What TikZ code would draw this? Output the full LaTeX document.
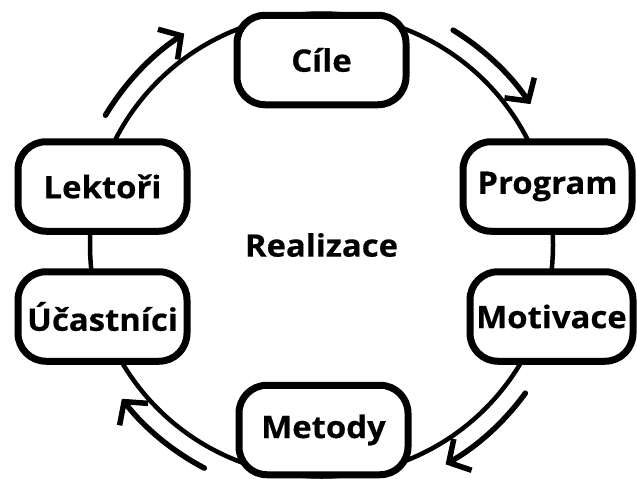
\documentclass[tikz,border=0pt]{standalone}
\usepackage{fontspec}
\setmainfont{Open Sans}
\newfontfamily\lblfont{Open Sans}[FakeStretch=1.06, FakeBold=0.4]
\usetikzlibrary{arrows.meta}
\tikzset{
  box/.style={draw=black, fill=white, line width=7pt, rounded corners=28pt,
    minimum width=169pt, minimum height=89.5pt, inner sep=0pt,
    font=\lblfont\fontsize{31}{31}\selectfont\bfseries},
  ring/.style={draw=black, line width=4.5pt},
  cyc/.style={draw=black, line width=5.5pt, line cap=round, line join=round,
    -{Straight Barb[length=16pt,width=36pt]}}
}
\begin{document}
\begin{tikzpicture}[x=1pt,y=-1pt]
\useasboundingbox (0,0) rectangle (637,479);
\coordinate (c) at (321.5,245);
\draw[ring] (c) circle[radius=231.5pt];
\node[box] (cile) at (321.5,60) {Cíle};
\node[box] (lektori) at (102.5,186.5) {Lektoři};
\node[box] (ucastnici) at (102.5,316.5) {Účastníci};
\node[box] (program) at (547.5,186.5) {Program};
\node[box, minimum width=163pt] (motivace) at (551.5,316.5) {Motivace};
\node[box] (metody) at (323.5,430) {Metody};
\node[font=\lblfont\fontsize{31}{31}\selectfont\bfseries] (real) at (c) {Realizace};
\path[cyc] (c) ++(-149:252) arc[start angle=-149, end angle=-123, radius=252];
\path[cyc] (c) ++(-58.5:252) arc[start angle=-58.5, end angle=-34, radius=252];
\path[cyc] (c) ++(36:252) arc[start angle=36, end angle=60.5, radius=252];
\path[cyc] (c) ++(117.7:252) arc[start angle=117.7, end angle=142.4, radius=252];
\end{tikzpicture}
\end{document}
